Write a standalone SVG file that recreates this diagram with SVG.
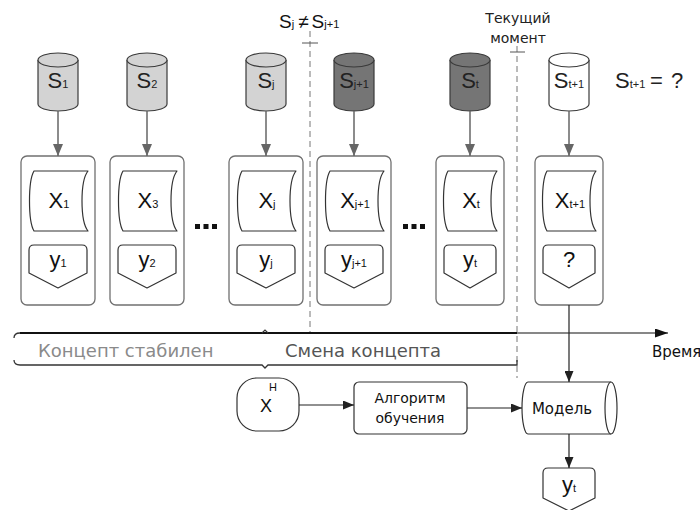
<svg xmlns="http://www.w3.org/2000/svg" width="700" height="510" viewBox="0 0 700 510">
  <style>
    .cyl { stroke: #3a3a3a; stroke-width: 1.2; }
    .light { fill: #d3d3d3; }
    .dark { fill: #757575; }
    .white { fill: #ffffff; }
    .box { fill: #ffffff; stroke: #707070; stroke-width: 1.3; }
    .shape { fill: #ffffff; stroke: #333333; stroke-width: 1.2; stroke-linejoin: round; }
    .lbl { font-family: "Liberation Sans", Arial, sans-serif; text-anchor: middle; }
    .sub { font-size: 11px; }
    .ui { font-family: "DejaVu Sans", Verdana, sans-serif; }
    .conn { stroke: #666666; stroke-width: 1.5; fill: none; }
    .flow { stroke: #222222; stroke-width: 1.2; fill: none; }
    .dash { stroke: #777777; stroke-width: 1; stroke-dasharray: 6 4; fill: none; }
    .dots { fill: #111111; }
  </style>
  <defs>
    <marker id="arrowGray" viewBox="0 0 12 10" refX="12" refY="5" markerWidth="12" markerHeight="10" markerUnits="userSpaceOnUse" orient="auto">
      <path d="M0,0 L12,5 L0,10 Z" fill="#666666"/>
    </marker>
    <marker id="arrowBlack" viewBox="0 0 11 9" refX="11" refY="4.5" markerWidth="11" markerHeight="9" markerUnits="userSpaceOnUse" orient="auto">
      <path d="M0,0 L11,4.5 L0,9 Z" fill="#222222"/>
    </marker>
    <marker id="arrowAxis" viewBox="0 0 13 9" refX="13" refY="4.5" markerWidth="13" markerHeight="9" markerUnits="userSpaceOnUse" orient="auto">
      <path d="M0,0 L13,4.5 L0,9 Z" fill="#111111"/>
    </marker>
    <!-- cylinder body (open top, the top ellipse is drawn separately) -->
    <path id="cylBody" d="M -20 60 V 104 A 20 7 0 0 0 20 104 V 60"/>
    <!-- stored-data shape and off-page shape, wide and narrow variants -->
    <path id="xWide" d="M -24 171 L 30 171 C 22 181 22 221 30 231 L -24 231 C -30 221 -30 181 -24 171 Z"/>
    <path id="yWide" d="M -24 245 L 24 245 Q 29 245 29 250 L 29 273 L 0 288 L -29 273 L -29 250 Q -29 245 -24 245 Z"/>
    <path id="xNarrow" d="M -22 171 L 27 171 C 19 181 19 221 27 231 L -22 231 C -28 221 -28 181 -22 171 Z"/>
    <path id="yNarrow" d="M -21 245 L 21 245 Q 26 245 26 250 L 26 273 L 0 288 L -26 273 L -26 250 Q -26 245 -21 245 Z"/>
  </defs>

  <!-- boundary markers -->
  <g id="boundaries">
    <line class="dash" x1="310" y1="31" x2="310" y2="333"/>
    <line x1="302" y1="43" x2="318" y2="43" stroke="#555" stroke-width="1"/>
    <line class="dash" x1="517" y1="46" x2="517" y2="378"/>
    <line x1="510" y1="52" x2="525" y2="52" stroke="#555" stroke-width="1"/>
    <text class="lbl" x="279" y="28" font-size="19" fill="#111" text-anchor="start" style="text-anchor:start">S<tspan class="sub">j</tspan><tspan dx="4">≠</tspan><tspan dx="3">S</tspan><tspan class="sub">j+1</tspan></text>
    <text class="ui" x="518" y="23" font-size="14" text-anchor="middle" fill="#222">Текущий</text>
    <text class="ui" x="518" y="43" font-size="14" text-anchor="middle" fill="#222">момент</text>
  </g>

  <!-- column 1 -->
  <g id="col1" transform="translate(58,0)">
    <use href="#cylBody" class="cyl light"/>
    <ellipse class="cyl light" cx="0" cy="60" rx="20" ry="7"/>
    <text class="lbl" x="0" y="88" font-size="22" fill="#222">S<tspan class="sub">1</tspan></text>
    <rect class="box" x="-37" y="156" width="74" height="149" rx="6"/>
    <use href="#xWide" class="shape"/>
    <text class="lbl" x="1" y="208" font-size="22" fill="#111">X<tspan class="sub">1</tspan></text>
    <use href="#yWide" class="shape"/>
    <text class="lbl" x="0" y="267" font-size="22" fill="#111">y<tspan class="sub">1</tspan></text>
  </g>

  <!-- column 2 -->
  <g id="col2" transform="translate(147,0)">
    <use href="#cylBody" class="cyl light"/>
    <ellipse class="cyl light" cx="0" cy="60" rx="20" ry="7"/>
    <text class="lbl" x="0" y="88" font-size="22" fill="#222">S<tspan class="sub">2</tspan></text>
    <rect class="box" x="-37" y="156" width="74" height="149" rx="6"/>
    <use href="#xWide" class="shape"/>
    <text class="lbl" x="1" y="208" font-size="22" fill="#111">X<tspan class="sub">3</tspan></text>
    <use href="#yWide" class="shape"/>
    <text class="lbl" x="0" y="267" font-size="22" fill="#111">y<tspan class="sub">2</tspan></text>
  </g>

  <!-- column j -->
  <g id="colJ" transform="translate(266,0)">
    <use href="#cylBody" class="cyl light"/>
    <ellipse class="cyl light" cx="0" cy="60" rx="20" ry="7"/>
    <text class="lbl" x="0" y="88" font-size="22" fill="#222">S<tspan class="sub">j</tspan></text>
    <rect class="box" x="-37" y="156" width="74" height="149" rx="6"/>
    <use href="#xWide" class="shape"/>
    <text class="lbl" x="1" y="208" font-size="22" fill="#111">X<tspan class="sub">j</tspan></text>
    <use href="#yWide" class="shape"/>
    <text class="lbl" x="0" y="267" font-size="22" fill="#111">y<tspan class="sub">j</tspan></text>
  </g>

  <!-- column j+1 -->
  <g id="colJ1" transform="translate(354,0)">
    <use href="#cylBody" class="cyl dark"/>
    <ellipse class="cyl dark" cx="0" cy="60" rx="20" ry="7"/>
    <text class="lbl" x="0" y="88" font-size="22" fill="#222">S<tspan class="sub">j+1</tspan></text>
    <rect class="box" x="-37" y="156" width="74" height="149" rx="6"/>
    <use href="#xWide" class="shape"/>
    <text class="lbl" x="1" y="208" font-size="22" fill="#111">X<tspan class="sub">j+1</tspan></text>
    <use href="#yWide" class="shape"/>
    <text class="lbl" x="0" y="267" font-size="22" fill="#111">y<tspan class="sub">j+1</tspan></text>
  </g>

  <!-- column t -->
  <g id="colT" transform="translate(470,0)">
    <use href="#cylBody" class="cyl dark"/>
    <ellipse class="cyl dark" cx="0" cy="60" rx="20" ry="7"/>
    <text class="lbl" x="0" y="88" font-size="22" fill="#222">S<tspan class="sub">t</tspan></text>
    <rect class="box" x="-34" y="156" width="68" height="149" rx="6"/>
    <use href="#xNarrow" class="shape"/>
    <text class="lbl" x="1" y="208" font-size="22" fill="#111">X<tspan class="sub">t</tspan></text>
    <use href="#yNarrow" class="shape"/>
    <text class="lbl" x="0" y="267" font-size="22" fill="#111">y<tspan class="sub">t</tspan></text>
  </g>

  <!-- column t+1 -->
  <g id="colT1" transform="translate(569,0)">
    <use href="#cylBody" class="cyl white"/>
    <ellipse class="cyl white" cx="0" cy="60" rx="20" ry="7"/>
    <text class="lbl" x="0" y="88" font-size="22" fill="#222">S<tspan class="sub">t+1</tspan></text>
    <rect class="box" x="-34" y="156" width="68" height="149" rx="6"/>
    <use href="#xNarrow" class="shape"/>
    <text class="lbl" x="1" y="208" font-size="22" fill="#111">X<tspan class="sub">t+1</tspan></text>
    <use href="#yNarrow" class="shape"/>
    <text class="lbl" x="0" y="267" font-size="22" fill="#111">?</text>
  </g>

  <text class="lbl" x="615" y="88" font-size="22" fill="#222" style="text-anchor:start">S<tspan class="sub">t+1</tspan><tspan x="650">=</tspan><tspan x="671">?</tspan></text>

  <!-- ellipsis marks -->
  <g id="ellipsis">
    <rect class="dots" x="195" y="224" width="5" height="5"/>
    <rect class="dots" x="203.5" y="224" width="5" height="5"/>
    <rect class="dots" x="212" y="224" width="5" height="5"/>
    <rect class="dots" x="403" y="224" width="5" height="5"/>
    <rect class="dots" x="411.5" y="224" width="5" height="5"/>
    <rect class="dots" x="420" y="224" width="5" height="5"/>
  </g>

  <!-- time axis and concept braces -->
  <g id="timeline">
    <line x1="20" y1="333" x2="517" y2="333" stroke="#111" stroke-width="2.2"/>
    <line x1="517" y1="333" x2="668" y2="333" stroke="#111" stroke-width="1.2" marker-end="url(#arrowAxis)"/>
    <path d="M 20 333 Q 14 333 14 338" stroke="#333" stroke-width="1.3" fill="none"/>
    <path d="M 262 333 L 265 330 L 268 333" stroke="#333" stroke-width="1.2" fill="none"/>
    <path d="M 14 360 Q 14 365 20 365 L 262 365 L 265 368 L 268 365 L 517 365 L 517 360" stroke="#333" stroke-width="1.3" fill="none"/>
    <text class="ui" x="38" y="357" font-size="18" fill="#8a8a8a">Концепт стабилен</text>
    <text class="ui" x="285" y="357" font-size="18" fill="#555">Смена концепта</text>
    <text class="ui" x="652" y="357" font-size="15" fill="#111">Время</text>
  </g>

  <!-- training flow -->
  <g id="xh">
    <rect class="shape" x="237" y="378" width="62" height="53" rx="20"/>
    <text class="lbl" x="266" y="412" font-size="18" fill="#111">X</text>
    <text class="lbl" x="273" y="391" font-size="11" fill="#111">H</text>
  </g>
  <g id="algorithm">
    <rect class="shape" x="354" y="382" width="113" height="52" rx="5"/>
    <text class="ui" x="410" y="403" font-size="14" text-anchor="middle" fill="#111">Алгоритм</text>
    <text class="ui" x="410" y="423" font-size="14" text-anchor="middle" fill="#111">обучения</text>
  </g>
  <g id="model">
    <path class="shape" d="M 528 382 L 611 382 A 6 26 0 0 1 611 434 L 528 434 A 6 26 0 0 1 528 382 Z"/>
    <path class="shape" d="M 611 382 A 6 26 0 0 0 611 434" fill="none"/>
    <text class="ui" x="562" y="414" font-size="15" text-anchor="middle" fill="#111">Модель</text>
  </g>
  <g id="prediction">
    <path class="shape" d="M 548 468 L 590 468 Q 595 468 595 473 L 595 498 L 569 511 L 543 498 L 543 473 Q 543 468 548 468 Z"/>
    <text class="lbl" x="569" y="492" font-size="22" fill="#111">y<tspan class="sub">t</tspan></text>
  </g>

  <!-- connectors -->
  <g id="connectors">
    <line class="conn" x1="58" y1="111" x2="58" y2="156" marker-end="url(#arrowGray)"/>
    <line class="conn" x1="147" y1="111" x2="147" y2="156" marker-end="url(#arrowGray)"/>
    <line class="conn" x1="266" y1="111" x2="266" y2="156" marker-end="url(#arrowGray)"/>
    <line class="conn" x1="354" y1="111" x2="354" y2="156" marker-end="url(#arrowGray)"/>
    <line class="conn" x1="470" y1="111" x2="470" y2="156" marker-end="url(#arrowGray)"/>
    <line class="conn" x1="569" y1="111" x2="569" y2="156" marker-end="url(#arrowGray)"/>
    <line class="flow" x1="569" y1="305" x2="569" y2="382" marker-end="url(#arrowBlack)"/>
    <line class="flow" x1="299" y1="405" x2="354" y2="405" marker-end="url(#arrowBlack)"/>
    <line class="flow" x1="467" y1="408" x2="522" y2="408" marker-end="url(#arrowBlack)"/>
    <line class="flow" x1="569" y1="434" x2="569" y2="468" marker-end="url(#arrowBlack)"/>
  </g>
</svg>
